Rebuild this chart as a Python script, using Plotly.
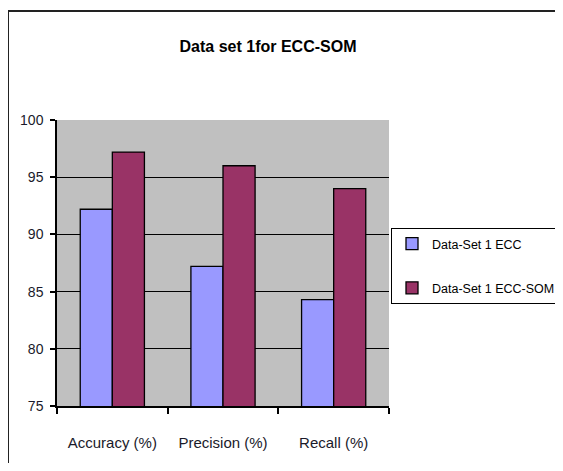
import plotly.graph_objects as go

categories = ["Accuracy (%)", "Precision (%)", "Recall (%)"]
ecc_values = [92.2, 87.2, 84.3]
ecc_som_values = [97.2, 96.0, 94.0]
series_names = ["Data-Set 1 ECC", "Data-Set 1 ECC-SOM"]
title_text = "Data set 1for ECC-SOM"
y_ticks = [75, 80, 85, 90, 95, 100]

FONT = "Liberation Sans, Arial, sans-serif"

# page has an 8px body margin; work in screen coordinates and shift
OFF = 8
W, H = 547, 455
L = 57 - OFF
T = 120 - OFF
PR = 389 - OFF
PB = 406 - OFF
R = W - PR
B = H - PB
pw = PR - L
ph = PB - T


def px_x(x):
    return (x - OFF - L) / pw


def px_y(y):
    return 1 - (y - OFF - T) / ph


fig = go.Figure()
fig.add_trace(go.Bar(x=categories, y=ecc_values, name=series_names[0],
                     marker=dict(color="#9999FF", line=dict(color="#000000", width=1.3)),
                     legendgroup="a"))
fig.add_trace(go.Bar(x=categories, y=ecc_som_values, name=series_names[1],
                     marker=dict(color="#993366", line=dict(color="#000000", width=1.3)),
                     legendgroup="b"))

fig.update_layout(
    width=W, height=H,
    margin=dict(l=L, r=R, t=T, b=B, pad=0, autoexpand=False),
    paper_bgcolor="white",
    plot_bgcolor="#C0C0C0",
    barmode="group",
    bargap=0.42,
    bargroupgap=0,
    font=dict(family=FONT, size=14, color="#1a1a2a"),
    title=dict(text="<b>" + title_text + "</b>", x=(268 - OFF) / W, xanchor="center",
               xref="container", yref="container",
               y=1 - (46 - OFF) / H, yanchor="middle",
               font=dict(family=FONT, size=16, color="#000000")),
    showlegend=True,
    legend=dict(xref="container", yref="container",
                x=(391 - OFF) / W, xanchor="left",
                y=1 - (228 - OFF) / H, yanchor="top",
                bordercolor="#000000", borderwidth=1, bgcolor="white",
                traceorder="grouped", tracegroupgap=25,
                font=dict(family=FONT, size=12.5, color="#000000"),
                itemwidth=30),
    xaxis=dict(showline=True, linecolor="#000000", linewidth=1.5, mirror=False,
               ticks="outside", tickson="boundaries", ticklen=6, tickcolor="#000000",
               tickwidth=1.5, showgrid=False, ticklabelstandoff=22,
               tickfont=dict(family=FONT, size=15, color="#1a1a2a")),
    yaxis=dict(range=[75, 100], tickvals=y_ticks, showline=True, linecolor="#000000",
               linewidth=1.5, ticks="outside", ticklen=5, tickcolor="#000000", tickwidth=1.5,
               showgrid=True, gridcolor="#000000", gridwidth=1.3, zeroline=False,
               ticklabelstandoff=4,
               tickfont=dict(family=FONT, size=14, color="#1a1a2a")),
    shapes=[
        dict(type="line", xref="paper", yref="paper", x0=px_x(8), x1=px_x(8),
             y0=px_y(11), y1=px_y(480), line=dict(color="#222222", width=2)),
        dict(type="line", xref="paper", yref="paper", x0=px_x(8), x1=px_x(570),
             y0=px_y(11), y1=px_y(11), line=dict(color="#222222", width=2)),
    ],
)

fig.write_html("out.html", config={"displayModeBar": False})
